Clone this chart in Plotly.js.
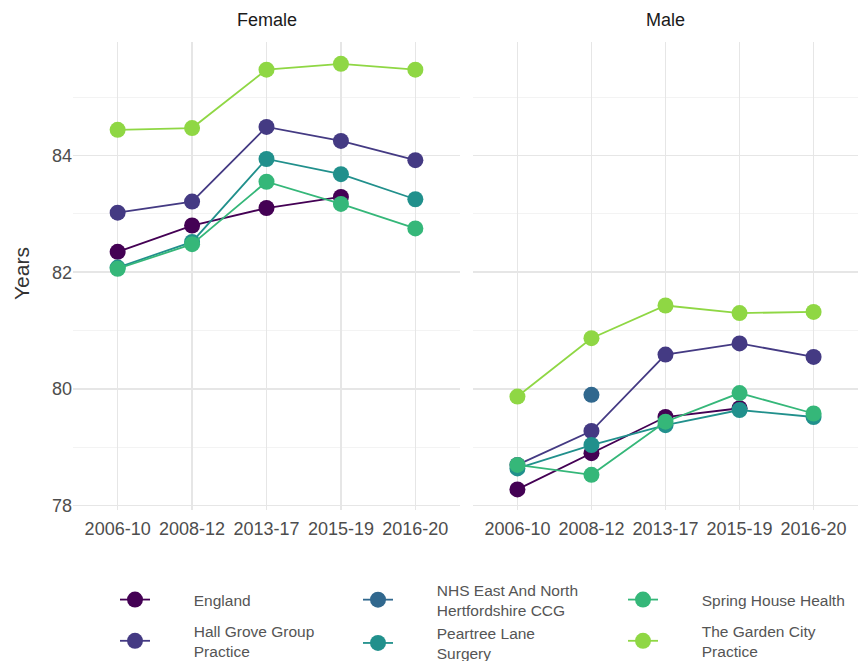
<!DOCTYPE html>
<html>
<head>
<meta charset="utf-8">
<script src="https://cdn.plot.ly/plotly-3.0.1.min.js"></script>
<style>html,body{margin:0;padding:0;background:#fff;}#chart{width:858px;height:661px;}</style>
</head>
<body>
<div id="chart"></div>
<script>
// Periods (x categories)
const periods = ["2006-10", "2008-12", "2013-17", "2015-19", "2016-20"];

// Series names (legend labels)
const seriesNames = ["England", "Hall Grove Group<br>Practice", "NHS East And North<br>Hertfordshire CCG",
  "Peartree Lane<br>Surgery", "Spring House Health", "The Garden City<br>Practice"];

// Female life expectancy (years)
const femaleEngland   = [82.35, 82.80, 83.10, 83.29, null];
const femaleHallGrove = [83.02, 83.21, 84.49, 84.25, 83.92];
const femaleNHS       = [null, null, null, null, null];
const femalePeartree  = [82.08, 82.52, 83.94, 83.68, 83.25];
const femaleSpring    = [82.06, 82.48, 83.55, 83.17, 82.75];
const femaleGarden    = [84.44, 84.47, 85.47, 85.57, 85.47];

// Male life expectancy (years)
const maleEngland   = [78.28, 78.90, 79.52, 79.67, null];
const maleHallGrove = [78.70, 79.28, 80.59, 80.78, 80.55];
const maleNHS       = [null, 79.90, null, null, null];
const malePeartree  = [78.64, 79.04, 79.38, 79.64, 79.52];
const maleSpring    = [78.70, 78.53, 79.44, 79.93, 79.58];
const maleGarden    = [79.87, 80.87, 81.43, 81.30, 81.32];

const colors = ["#440154", "#443A83", "#31688E", "#21908C", "#35B779", "#8FD744"];
const legendIds = ["legend", "legend", "legend2", "legend2", "legend3", "legend3"];

const femaleData = [femaleEngland, femaleHallGrove, femaleNHS, femalePeartree, femaleSpring, femaleGarden];
const maleData = [maleEngland, maleHallGrove, maleNHS, malePeartree, maleSpring, maleGarden];

const pad = "\u00a0".repeat(9);
function padLabel(s) { return s.split("<br>").map(t => pad + t).join("<br>"); }

const traces = [];
seriesNames.forEach((name, i) => {
  traces.push({
    type: "scatter", mode: "lines+markers", x: periods, y: femaleData[i],
    xaxis: "x", yaxis: "y", name: padLabel(name), legendgroup: "g" + i, showlegend: false,
    line: {color: colors[i], width: 1.8}, marker: {color: colors[i], size: 16},
    hoverinfo: "x+y"
  });
});
seriesNames.forEach((name, i) => {
  traces.push({
    type: "scatter", mode: "lines+markers", x: periods, y: maleData[i],
    xaxis: "x2", yaxis: "y2", name: padLabel(name), legendgroup: "g" + i, showlegend: true,
    legend: legendIds[i],
    line: {color: colors[i], width: 1.8}, marker: {color: colors[i], size: 16},
    hoverinfo: "x+y"
  });
});

const font = "Liberation Sans, Arial, sans-serif";
const gridColor = "#e6e6e6";
const xBase = {
  type: "category", range: [-0.6, 4.6], showgrid: true, gridcolor: gridColor, gridwidth: 1.5,
  zeroline: false, showline: false, ticks: "", automargin: false, ticklabelstandoff: 6,
  tickfont: {family: font, size: 18, color: "#4d4d4d"}
};
const yBase = {
  range: [77.927, 85.944], dtick: 2, tick0: 78, showgrid: true, gridcolor: gridColor, gridwidth: 1.5,
  minor: {dtick: 1, tick0: 78, showgrid: true, gridcolor: "#f0f0f0", gridwidth: 0.8},
  zeroline: false, showline: false, ticks: "", automargin: false,
  tickfont: {family: font, size: 18, color: "#4d4d4d"}
};

const legFont = {family: font, size: 15.5, color: "#555"};
function leg(xpx, ytoppx, gap) {
  return {
    orientation: "v", xref: "container", yref: "container",
    x: xpx / 858, xanchor: "left", y: 1 - ytoppx / 661, yanchor: "top",
    font: legFont, tracegroupgap: gap, bgcolor: "rgba(0,0,0,0)", borderwidth: 0
  };
}

const layout = {
  width: 858, height: 661,
  margin: {l: 0, r: 0, t: 42, b: 151, autoexpand: false},
  paper_bgcolor: "#fff", plot_bgcolor: "#fff",
  font: {family: font},
  showlegend: true,
  xaxis: Object.assign({}, xBase, {domain: [73/858, 460/858], anchor: "y"}),
  xaxis2: Object.assign({}, xBase, {domain: [473/858, 1], anchor: "y2"}),
  yaxis: Object.assign({}, yBase, {domain: [0, 1], anchor: "x"}),
  yaxis2: Object.assign({}, yBase, {domain: [0, 1], anchor: "x2", matches: "y", showticklabels: false}),
  legend: leg(115, 583, 8),
  legend2: leg(358, 573, 0),
  legend3: leg(623, 583, 8),
  annotations: [
    {text: "Female", x: 0.5, y: 1, xref: "x domain", yref: "paper", xanchor: "center", yanchor: "bottom", yshift: 10,
     showarrow: false, font: {family: font, size: 18, color: "#1a1a1a"}},
    {text: "Male", x: 0.5, y: 1, xref: "x2 domain", yref: "paper", xanchor: "center", yanchor: "bottom", yshift: 10,
     showarrow: false, font: {family: font, size: 18, color: "#1a1a1a"}},
    {text: "Years", textangle: -90, x: 21 / 858, y: (510 - 274) / 468, xref: "paper", yref: "paper",
     xanchor: "center", yanchor: "middle", showarrow: false, font: {family: font, size: 21, color: "#333"}}
  ]
};

Plotly.newPlot("chart", traces, layout, {displayModeBar: false, staticPlot: true});
</script>
</body>
</html>
